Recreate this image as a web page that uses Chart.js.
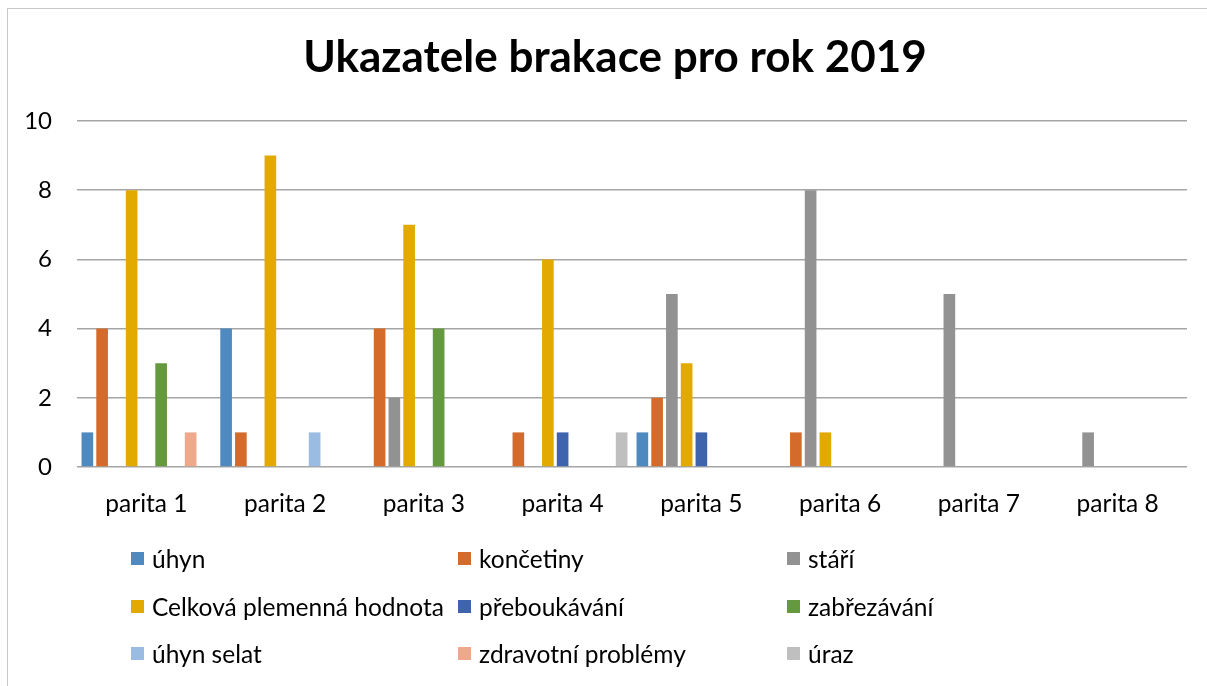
<!DOCTYPE html>
<html>
<head>
<meta charset="utf-8">
<script src="https://cdn.jsdelivr.net/npm/chart.js@4.4.1/dist/chart.umd.min.js"></script>
<style>
  body { margin:0; background:#fff; font-family:Lato, sans-serif; }
  #wrap { position:relative; width:1207px; height:686px; overflow:hidden; }
  #frame { position:absolute; left:7px; top:8px; width:1300px; height:800px;
           border-left:1px solid #c9c9c9; border-top:1px solid #c9c9c9; }
  #title { position:absolute; left:0; width:1230px; top:29px; text-align:center;
           font-weight:bold; font-size:44px; color:#000; }
  canvas { position:absolute; left:0; top:0; }
  .lg { position:absolute; font-size:24.5px; color:#000; white-space:nowrap;
        display:flex; align-items:center; height:28px; }
  .lg i { display:inline-block; width:13px; height:13px; margin-right:8px; }
</style>
</head>
<body>
<div id="wrap">
  <div id="frame"></div>
  <canvas id="chart" width="1207" height="686"></canvas>
  <div id="title">Ukazatele brakace pro rok 2019</div>
  <div id="legend"></div>
</div>
<script>
const categories = ["parita 1","parita 2","parita 3","parita 4","parita 5","parita 6","parita 7","parita 8"];

const seriesNames = [
  "úhyn",
  "končetiny",
  "stáří",
  "Celková plemenná hodnota",
  "přeboukávání",
  "zabřezávání",
  "úhyn selat",
  "zdravotní problémy",
  "úraz"
];

const uhyn        = [1,4,0,0,1,0,0,0];
const koncetiny   = [4,1,4,1,2,1,0,0];
const stari       = [0,0,2,0,5,8,5,1];
const celkova     = [8,9,7,6,3,1,0,0];
const preboukavani= [0,0,0,1,1,0,0,0];
const zabrezavani = [3,0,4,0,0,0,0,0];
const uhynSelat   = [0,1,0,0,0,0,0,0];
const zdravotni   = [1,0,0,0,0,0,0,0];
const uraz        = [0,0,0,1,0,0,0,0];

const yTicks = [0,2,4,6,8,10];

const colors = ["#4e8ac0","#d46b2a","#929292","#e2aa00","#3e64ae","#64993d","#9abce2","#f0a88c","#bfbfbf"];

const values = [uhyn,koncetiny,stari,celkova,preboukavani,zabrezavani,uhynSelat,zdravotni,uraz];

// legend, three columns like the excel one
const legendCols = [131, 458, 787];
const legendRows = [558, 606, 653];
const legend = document.getElementById("legend");
seriesNames.forEach((name, i) => {
  const d = document.createElement("div");
  d.className = "lg";
  d.style.left = legendCols[i % 3] + "px";
  d.style.top = (legendRows[Math.floor(i / 3)] - 14) + "px";
  d.innerHTML = '<i style="background:' + colors[i] + '"></i>' + name;
  legend.appendChild(d);
});

new Chart(document.getElementById("chart"), {
  type: "bar",
  data: {
    labels: categories,
    datasets: seriesNames.map((name, i) => ({
      label: name,
      data: values[i],
      backgroundColor: colors[i],
      borderWidth: 0,
      barPercentage: 0.79,
      categoryPercentage: 0.957
    }))
  },
  options: {
    responsive: false,
    animation: false,
    layout: { padding: { left: 0, right: 20, top: 121, bottom: 0 } },
    plugins: {
      legend: { display: false },
      title: { display: false },
      tooltip: { enabled: false }
    },
    scales: {
      x: {
        grid: { display: false },
        border: { display: false },
        ticks: { color: "#000", font: { family: "Lato", size: 24.5 }, padding: 14, maxRotation: 0 },
        afterFit: s => { s.height = 219; }
      },
      y: {
        min: 0,
        max: 10,
        grid: { color: "#a5a5a5", lineWidth: 1.5, drawTicks: false },
        border: { display: false },
        ticks: {
          color: "#000",
          font: { family: "Lato", size: 24 },
          padding: 25,
          stepSize: 2,
          callback: v => yTicks.includes(v) ? v : null
        },
        afterFit: s => { s.width = 77; }
      }
    }
  }
});
</script>
</body>
</html>
